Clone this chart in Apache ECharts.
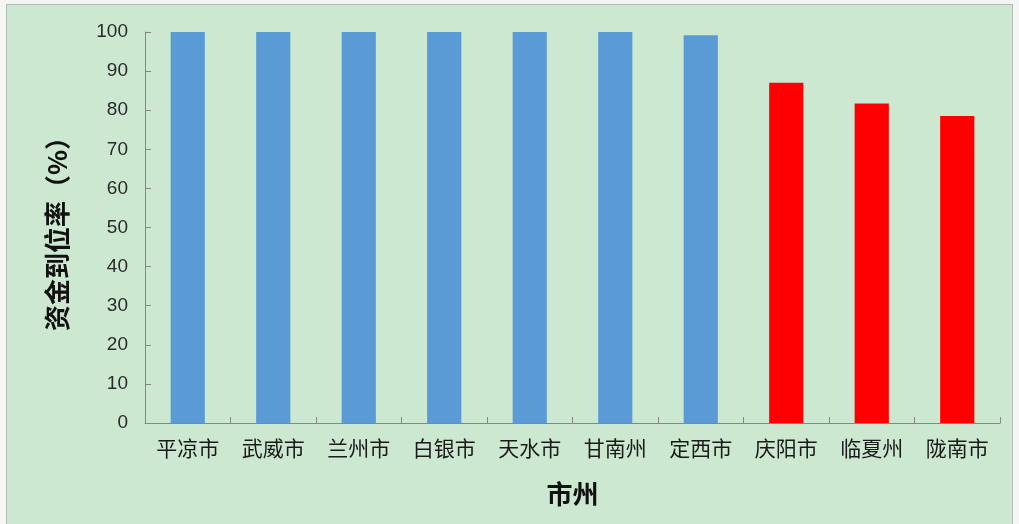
<!DOCTYPE html>
<html>
<head>
<meta charset="utf-8">
<script src="https://cdn.jsdelivr.net/npm/echarts@6/dist/echarts.min.js"></script>
<style>
html,body{margin:0;padding:0;background:#f4f6f4;}
#frame{position:absolute;left:6px;top:4px;width:1005px;height:520px;border:1px solid #b4bab4;border-bottom:none;background:#cde8d0;}
#c{position:absolute;left:-7px;top:-5px;width:1019px;height:524px;}
</style>
</head>
<body>
<div id="frame"><div id="c"></div></div>
<script>
const categories = ['平凉市','武威市','兰州市','白银市','天水市','甘南州','定西市','庆阳市','临夏州','陇南市'];
const rates = [100, 100, 100, 100, 100, 100, 99.2, 87.0, 81.7, 78.5];
const yTicks = {min: 0, max: 100, interval: 10};
const xAxisName = '市州';
const yAxisName = '资金到位率（%）';

const chart = echarts.init(document.getElementById('c'));
chart.setOption({
  backgroundColor: 'transparent',
  animation: false,
  grid: {left: 145, right: 19, top: 32, bottom: 101, containLabel: false},
  xAxis: {
    type: 'category',
    data: categories,
    name: xAxisName,
    nameLocation: 'middle',
    nameGap: 58,
    nameTextStyle: {fontFamily: 'Noto Sans CJK SC', fontWeight: 'bold', fontSize: 26, color: '#111'},
    axisLine: {lineStyle: {color: '#868686', width: 1}},
    axisTick: {show: true, inside: true, length: 6, alignWithLabel: false, lineStyle: {color: '#868686'}},
    axisLabel: {fontFamily: 'Noto Sans CJK SC', fontSize: 21, color: '#1a1a1a', margin: 15, interval: 0}
  },
  yAxis: {
    type: 'value',
    min: yTicks.min, max: yTicks.max, interval: yTicks.interval,
    name: yAxisName,
    nameLocation: 'middle',
    nameGap: 75,
    nameRotate: 90,
    nameTextStyle: {fontFamily: 'Noto Sans CJK SC', fontWeight: 'bold', fontSize: 26, color: '#111'},
    axisLine: {show: true, lineStyle: {color: '#868686', width: 1}},
    axisTick: {show: true, inside: true, length: 6, lineStyle: {color: '#868686'}},
    axisLabel: {fontFamily: 'Liberation Sans', fontSize: 19, color: '#2a2a2a', margin: 17},
    splitLine: {show: false}
  },
  series: [{
    type: 'bar',
    data: rates,
    barWidth: '40%',
    itemStyle: {
      color: function (p) { return p.value < 95 ? '#ff0000' : '#5b9bd5'; }
    }
  }]
});
</script>
</body>
</html>
